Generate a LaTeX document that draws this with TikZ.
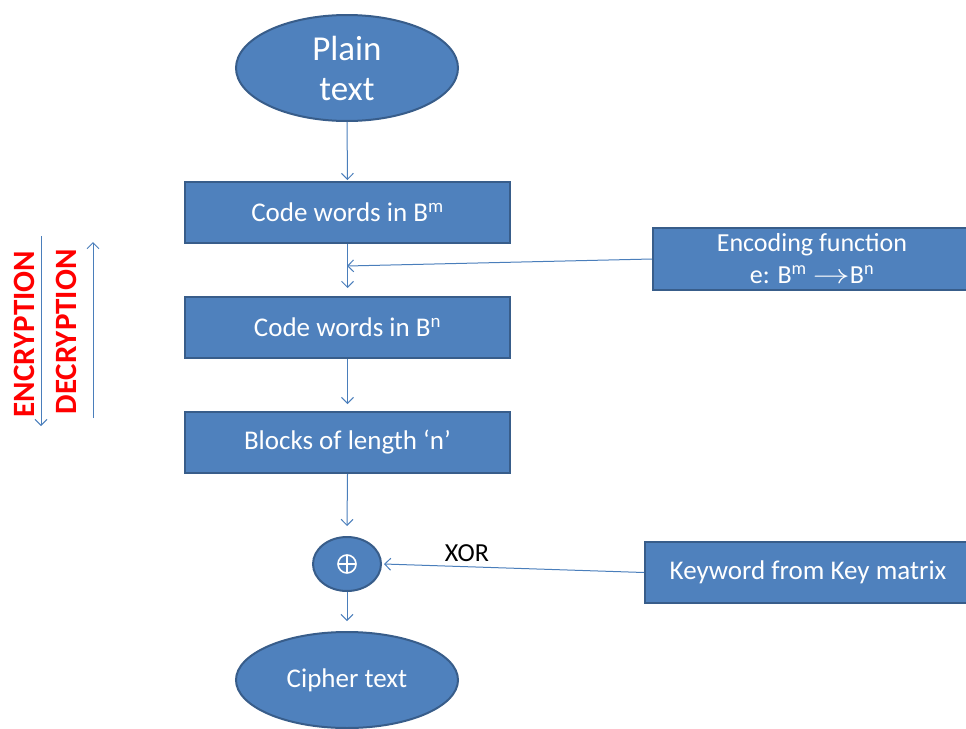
\documentclass[tikz,border=0pt]{standalone}
\usepackage{fontspec}
\setmainfont{Carlito}
\usetikzlibrary{arrows.meta,shapes.geometric}
\definecolor{fillb}{HTML}{4F81BD}
\definecolor{edgeb}{HTML}{385D8A}
\definecolor{lineb}{HTML}{4A7EBB}
\tikzset{
  boxst/.style={draw=edgeb,line width=2pt,fill=fillb,text=white,minimum width=325pt,minimum height=61pt,inner sep=0pt,font=\fontsize{27}{32}\selectfont},
  ellst/.style={ellipse,draw=edgeb,line width=2pt,fill=fillb,text=white,inner sep=0pt},
  conn/.style={draw=lineb,line width=1pt,-{Straight Barb[length=6pt,width=12pt]}},
  opline/.style={draw=white,line width=1.6pt},
}
\begin{document}
\begin{tikzpicture}[x=1pt,y=-1pt]
\useasboundingbox (0,0) rectangle (966,728);
\node[ellst,minimum width=222pt,minimum height=106pt,align=center,font=\fontsize{35}{40}\selectfont] (plain) at (347,68) {Plain\\text};
\node[boxst] (b1) at (347.5,212.5) {Code words in B\textsuperscript{m}};
\node[boxst] (b2) at (347.5,327.5) {Code words in B\textsuperscript{n}};
\node[boxst] (b3) at (347.5,442.5) {Blocks of length ‘n’};
\node[boxst,minimum width=318pt,minimum height=62pt,align=center,font=\fontsize{26}{32}\selectfont] (enc) at (812,259) {Encoding function\\e: B\textsuperscript{m} \scalebox{1.5}[1.1]{$\rightarrow$}B\textsuperscript{n}};
\node[ellst,minimum width=68pt,minimum height=54pt] (xor) at (347,564) {};
\draw[opline] (xor.center) circle[radius=9pt];
\draw[opline] ([xshift=-9pt]xor.center) -- ([xshift=9pt]xor.center);
\draw[opline] ([yshift=-9pt]xor.center) -- ([yshift=9pt]xor.center);
\node[boxst,minimum width=326pt] (key) at (808,572.5) {Keyword from Key matrix};
\node[ellst,minimum width=222pt,minimum height=96pt,font=\fontsize{27}{30}\selectfont] (cipher) at (347,680) {Cipher text};
\coordinate (m1) at (347,266);
\node[font=\fontsize{26}{30}\selectfont,inner sep=0pt] (xorlbl) at (467,553) {XOR};
% connectors
\draw[conn] (plain.south) -- ([yshift=1pt]b1.north);
\draw[conn] (b1.south) -- ([yshift=8pt]b2.north);
\draw[conn] (enc.west) -- (m1);
\draw[conn] (b2.south) -- ([yshift=7pt]b3.north);
\draw[conn] (b3.south) -- ([yshift=10pt]xor.north);
\draw[conn] (key.west) -- ([xshift=2pt]xor.east);
\draw[conn] (xor.south) -- ([yshift=10pt]cipher.north);
% left side labels
\node[rotate=90,text=red,font=\bfseries\fontsize{31}{34}\selectfont,inner sep=0pt] (encl) at (24,334) {ENCRYPTION};
\node[rotate=90,text=red,font=\bfseries\fontsize{31}{34}\selectfont,inner sep=0pt] (decl) at (66,332) {DECRYPTION};
\coordinate (ea) at (41,236);
\coordinate (eb) at (41,426);
\coordinate (da) at (93,418);
\coordinate (db) at (93,242);
\draw[conn] (ea) -- (eb);
\draw[conn] (da) -- (db);
\end{tikzpicture}
\end{document}
